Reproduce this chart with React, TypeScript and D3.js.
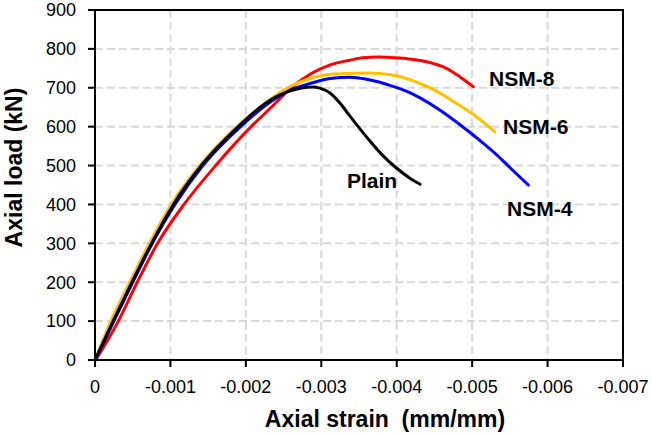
import React from "react";
import * as d3 from "d3";

const xTicks = [0, -0.001, -0.002, -0.003, -0.004, -0.005, -0.006, -0.007];
const xTickLabels = ["0", "-0.001", "-0.002", "-0.003", "-0.004", "-0.005", "-0.006", "-0.007"];
const yTicks = [0, 100, 200, 300, 400, 500, 600, 700, 800, 900];

const plainStrain = [0, -0.00024, -0.00049, -0.00075, -0.00104, -0.00141, -0.0019, -0.00205, -0.00219, -0.00245, -0.00272, -0.00289, -0.00298, -0.00312, -0.00325, -0.00338, -0.00351, -0.00365, -0.00382, -0.004, -0.00418, -0.00431];
const plainLoad = [0, 100, 200, 300, 400, 500, 600, 627, 650, 682, 699, 702, 699, 686, 660, 627, 595, 562, 525, 493, 467, 452];

const nsm8Strain = [-0.00001, -0.00031, -0.00056, -0.00083, -0.00118, -0.0016, -0.00207, -0.00235, -0.00259, -0.00285, -0.00312, -0.00338, -0.00355, -0.00375, -0.00391, -0.00413, -0.0044, -0.00466, -0.00484, -0.005015];
const nsm8Load = [0, 100, 200, 300, 400, 500, 600, 652, 698, 735, 759, 771, 777, 779, 778, 775, 767, 750, 728, 703];

const nsm6Strain = [0, -0.00021, -0.00046, -0.00072, -0.00101, -0.00139, -0.00188, -0.0022, -0.00258, -0.00285, -0.00312, -0.00338, -0.00365, -0.0039, -0.00404, -0.00431, -0.00457, -0.00475, -0.00506, -0.0053];
const nsm6Load = [0, 100, 200, 300, 400, 500, 600, 652, 703, 724, 735, 737, 738, 734, 729, 711, 687, 665, 625, 587];

const nsm4Strain = [-0.000005, -0.00025, -0.0005, -0.00076, -0.00106, -0.00143, -0.00193, -0.0023, -0.002585, -0.00285, -0.00312, -0.00338, -0.00365, -0.0039, -0.00418, -0.00431, -0.00457, -0.00484, -0.0051, -0.00533, -0.0055, -0.005745];
const nsm4Load = [0, 100, 200, 300, 400, 500, 600, 660, 694, 711, 724, 727, 720, 707, 687, 674, 643, 605, 565, 527, 495, 450];

const seriesNames = ["NSM-8", "NSM-4", "NSM-6", "Plain"];
const seriesColors = ["#ff0000", "#0000ff", "#ffc000", "#000000"];

const W = 652, H = 437;
const left = 95, right = 623, top = 10, bottom = 360;

export default function App() {
  const x = d3.scaleLinear().domain([0, -0.007]).range([left, right]);
  const y = d3.scaleLinear().domain([0, 900]).range([bottom, top]);

  const series = [
    { name: seriesNames[0], s: nsm8Strain, l: nsm8Load, color: seriesColors[0] },
    { name: seriesNames[1], s: nsm4Strain, l: nsm4Load, color: seriesColors[1] },
    { name: seriesNames[2], s: nsm6Strain, l: nsm6Load, color: seriesColors[2] },
    { name: seriesNames[3], s: plainStrain, l: plainLoad, color: seriesColors[3] },
  ];

  const line = d3
    .line<[number, number]>()
    .x((d) => x(d[0]))
    .y((d) => y(d[1]))
    .curve(d3.curveMonotoneX);

  const font = "'Liberation Sans', Arial, sans-serif";

  return (
    <svg width={W} height={H} style={{ position: "absolute", left: 0, top: 0, background: "#fff" }}>
      <rect x={0} y={0} width={W} height={H} fill="#fff" />
      {xTicks.slice(1, -1).map((t) => (
        <line key={"gx" + t} x1={x(t)} x2={x(t)} y1={top} y2={bottom} stroke="#d9d9d9" strokeWidth={2} strokeDasharray="8,4" />
      ))}
      {yTicks.slice(1, -1).map((t) => (
        <line key={"gy" + t} x1={left} x2={right} y1={y(t)} y2={y(t)} stroke="#d9d9d9" strokeWidth={2} strokeDasharray="8,4" />
      ))}
      {series.map((sr) => (
        <path
          key={sr.name}
          d={line(sr.s.map((v, i) => [v, sr.l[i]] as [number, number])) || ""}
          fill="none"
          stroke={sr.color}
          strokeWidth={3}
          strokeLinejoin="round"
          strokeLinecap="round"
        />
      ))}
      <rect x={left} y={top} width={right - left} height={bottom - top} fill="none" stroke="#000" strokeWidth={2} />
      {yTicks.map((t) => (
        <g key={"yt" + t}>
          <line x1={left - 7} x2={left} y1={y(t)} y2={y(t)} stroke="#000" strokeWidth={2} />
          <text x={76} y={y(t)} dy="0.35em" textAnchor="end" fontFamily={font} fontSize={18} fill="#000">
            {t}
          </text>
        </g>
      ))}
      {xTicks.map((t, i) => (
        <g key={"xt" + t}>
          <line x1={x(t)} x2={x(t)} y1={bottom} y2={bottom + 7} stroke="#000" strokeWidth={2} />
          <text x={x(t)} y={393} textAnchor="middle" fontFamily={font} fontSize={18} fill="#000">
            {xTickLabels[i]}
          </text>
        </g>
      ))}
      <text x={385} y={427} textAnchor="middle" fontFamily={font} fontSize={23} fontWeight="bold" style={{ whiteSpace: "pre" }}>
        {"Axial strain  (mm/mm)"}
      </text>
      <text transform={`translate(22,${167.5}) rotate(-90)`} textAnchor="middle" fontFamily={font} fontSize={23} fontWeight="bold">
        Axial load (kN)
      </text>
      <text x={489} y={85.7} fontFamily={font} fontSize={21} fontWeight="bold">NSM-8</text>
      <text x={503} y={134} fontFamily={font} fontSize={21} fontWeight="bold">NSM-6</text>
      <text x={507} y={216} fontFamily={font} fontSize={21} fontWeight="bold">NSM-4</text>
      <text x={347} y={188} fontFamily={font} fontSize={21} fontWeight="bold">Plain</text>
    </svg>
  );
}
